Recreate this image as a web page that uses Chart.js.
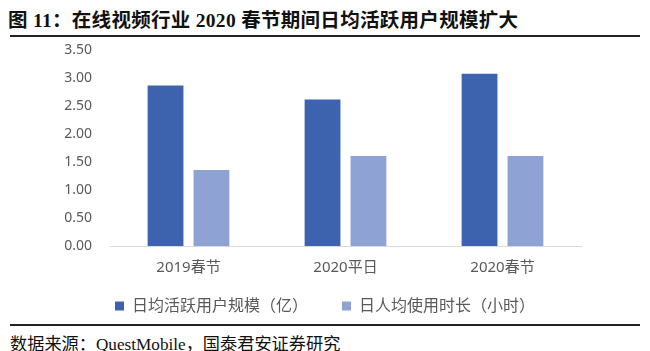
<!DOCTYPE html>
<html>
<head>
<meta charset="utf-8">
<script src="https://cdn.jsdelivr.net/npm/chart.js@4"></script>
<style>
  html, body { margin: 0; padding: 0; background: #fff; }
  body { width: 650px; height: 351px; position: relative; overflow: hidden; }
  #title {
    position: absolute; left: 8px; top: 4px;
    font: bold 19.5px "Liberation Serif", "Noto Sans CJK SC", serif;
    color: #111; letter-spacing: 0.3px;
  }
  .rule { position: absolute; left: 10px; width: 630px; height: 2px; background: #222; }
  #wrap { position: absolute; left: 0; top: 24px; width: 650px; height: 300px; }
  #foot {
    position: absolute; left: 10px; top: 330px;
    font: 17.2px "Liberation Serif", "Noto Sans CJK SC", serif; color: #111;
  }
</style>
</head>
<body>
<div id="title">图 11：在线视频行业 2020 春节期间日均活跃用户规模扩大</div>
<div class="rule" style="top:35px"></div>
<div id="wrap"><canvas id="chart"></canvas></div>
<div class="rule" style="top:324px"></div>
<div id="foot">数据来源：QuestMobile，国泰君安证券研究</div>
<script>
// values
var categories = ['2019春节', '2020平日', '2020春节'];
var dauSeries = [2.87, 2.62, 3.08];      // 日均活跃用户规模（亿）
var timeSeries = [1.36, 1.61, 1.61];     // 日人均使用时长（小时）
var seriesNames = ['日均活跃用户规模（亿）', '日人均使用时长（小时）'];
var yTicks = [0, 0.5, 1, 1.5, 2, 2.5, 3, 3.5];

var font = '"Noto Sans", "Noto Sans CJK SC", sans-serif';

var ctx = document.getElementById('chart').getContext('2d');
var myChart = new Chart(ctx, {
    type: 'bar',
    data: {
        labels: categories,
        datasets: [{
            // trailing full-width spaces widen the gap between legend items
            label: seriesNames[0] + '\u3000\u3000',
            data: dauSeries,
            backgroundColor: '#3D62AE'
        }, {
            label: seriesNames[1],
            data: timeSeries,
            backgroundColor: '#8EA2D3'
        }]
    },
    options: {
        responsive: true,
        maintainAspectRatio: false,
        animation: false,
        categoryPercentage: 0.585,
        barPercentage: 0.78,
        layout: { padding: 0 },
        plugins: {
            tooltip: { enabled: false },
            legend: {
                position: 'bottom',
                labels: {
                    color: '#595959',
                    font: { family: font, size: 16 },
                    boxWidth: 9,
                    boxHeight: 9,
                    padding: 10
                }
            }
        },
        scales: {
            x: {
                grid: { display: false, drawTicks: false },
                border: { color: '#d9d9d9', width: 1 },
                ticks: { color: '#595959', font: { family: font, size: 15 }, padding: 13 },
                afterFit: function (scale) { scale.height = 42; }
            },
            y: {
                min: 0,
                max: 3.5,
                grid: { display: false, drawTicks: false },
                border: { display: false },
                afterBuildTicks: function (scale) {
                    scale.ticks = yTicks.map(function (v) { return { value: v }; });
                },
                ticks: {
                    autoSkip: false,
                    color: '#595959',
                    font: { family: font, size: 14 },
                    padding: 18,
                    callback: function (v) { return Number(v).toFixed(2); }
                },
                afterFit: function (scale) { scale.width = 110; }
            },
            // empty right axis only reserves the blank margin, so the legend stays centred on the page
            yRight: {
                position: 'right',
                min: 0,
                max: 3.5,
                grid: { display: false, drawTicks: false },
                border: { display: false },
                ticks: { display: false },
                afterFit: function (scale) { scale.width = 69; }
            }
        }
    }
});
</script>
</body>
</html>
